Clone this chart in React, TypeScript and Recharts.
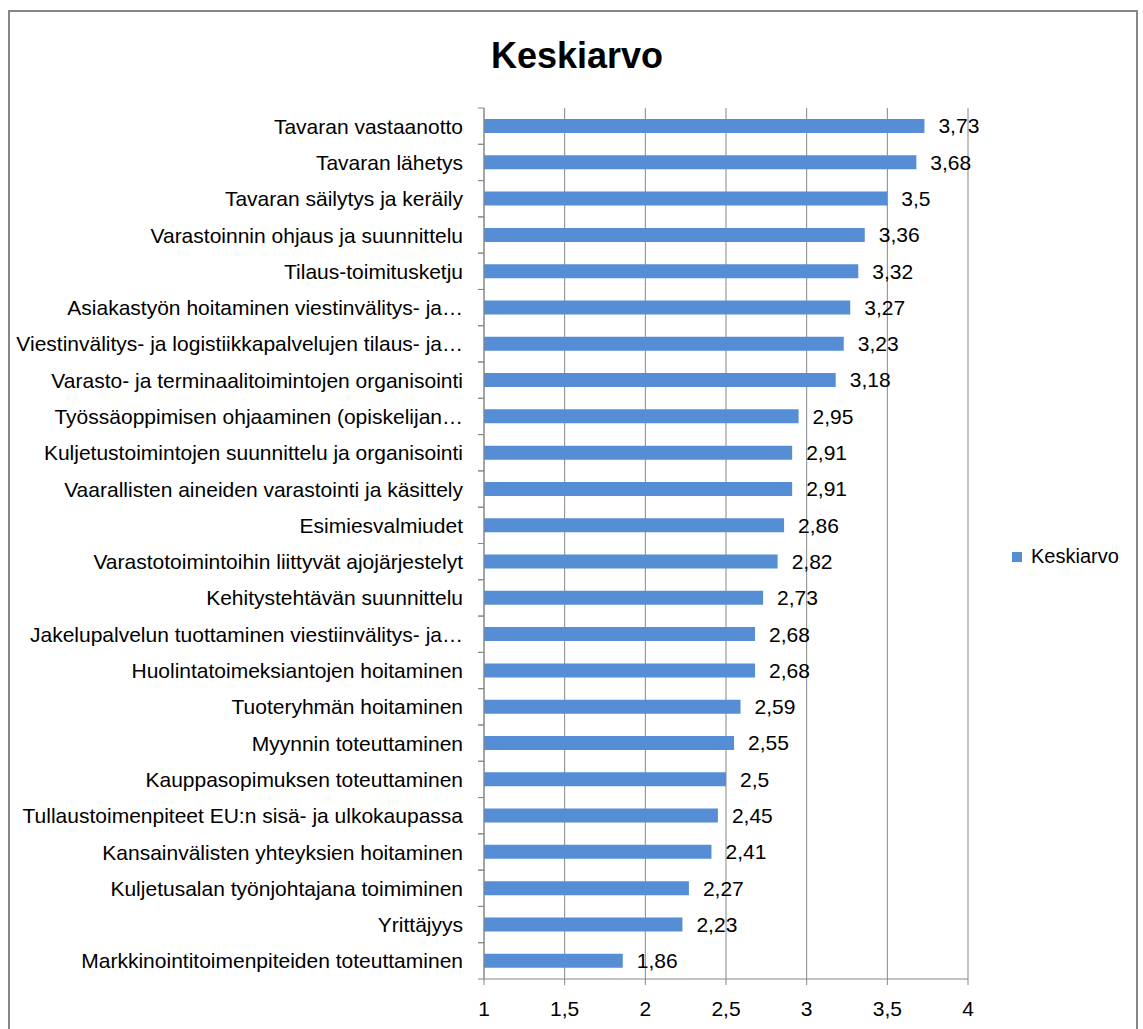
import React from "react";
import { BarChart, Bar, XAxis, YAxis, CartesianGrid, LabelList } from "recharts";

const categories: string[] = [
  "Tavaran vastaanotto",
  "Tavaran lähetys",
  "Tavaran säilytys ja keräily",
  "Varastoinnin ohjaus ja suunnittelu",
  "Tilaus-toimitusketju",
  "Asiakastyön hoitaminen viestinvälitys- ja…",
  "Viestinvälitys- ja logistiikkapalvelujen tilaus- ja…",
  "Varasto- ja terminaalitoimintojen organisointi",
  "Työssäoppimisen ohjaaminen (opiskelijan…",
  "Kuljetustoimintojen suunnittelu ja organisointi",
  "Vaarallisten aineiden varastointi ja käsittely",
  "Esimiesvalmiudet",
  "Varastotoimintoihin liittyvät ajojärjestelyt",
  "Kehitystehtävän suunnittelu",
  "Jakelupalvelun tuottaminen viestiinvälitys- ja…",
  "Huolintatoimeksiantojen hoitaminen",
  "Tuoteryhmän hoitaminen",
  "Myynnin toteuttaminen",
  "Kauppasopimuksen toteuttaminen",
  "Tullaustoimenpiteet EU:n sisä- ja ulkokaupassa",
  "Kansainvälisten yhteyksien hoitaminen",
  "Kuljetusalan työnjohtajana toimiminen",
  "Yrittäjyys",
  "Markkinointitoimenpiteiden toteuttaminen",
];

const keskiarvo: number[] = [
  3.73, 3.68, 3.5, 3.36, 3.32, 3.27, 3.23, 3.18, 2.95, 2.91, 2.91, 2.86,
  2.82, 2.73, 2.68, 2.68, 2.59, 2.55, 2.5, 2.45, 2.41, 2.27, 2.23, 1.86,
];

const xTicks: number[] = [1, 1.5, 2, 2.5, 3, 3.5, 4];

const seriesName = "Keskiarvo";
const chartTitle = "Keskiarvo";

const data = categories.map((name, i) => ({ name, value: keskiarvo[i] }));

const FONT = "'Liberation Sans', Arial, sans-serif";
const GRAY = "#868686";
const BLUE = "#558ED5";
const FS = 21;

const fmt = (v: any) => String(v).replace(".", ",");

const CategoryTick = (props: any) => {
  const { x, y, payload } = props;
  const half = payload && typeof payload.offset === "number" && payload.offset > 0 ? payload.offset : 18.15;
  const axisX = 484;
  return (
    <g>
      <line x1={axisX - 6} x2={axisX} y1={y - half} y2={y - half} stroke={GRAY} strokeWidth={1} />
      <line x1={axisX - 6} x2={axisX} y1={y + half} y2={y + half} stroke={GRAY} strokeWidth={1} />
      <text x={x} y={y} dy="0.36em" textAnchor="end" fill="#000" fontSize={FS} fontFamily={FONT}>
        {payload.value}
      </text>
    </g>
  );
};

export default function App() {
  return (
    <div style={{ position: "absolute", left: 0, top: 0, width: 1143, height: 1029, background: "#fff", overflow: "hidden" }}>
      <div
        style={{
          position: "absolute",
          left: 8,
          top: 10,
          width: 1130,
          height: 1060,
          border: `2px solid ${GRAY}`,
          boxSizing: "border-box",
        }}
      />
      <svg style={{ position: "absolute", left: 0, top: 0 }} width={1143} height={100}>
        <text x={577} y={68} textAnchor="middle" fontFamily={FONT} fontWeight="bold" fontSize={36} fill="#000">
          {chartTitle}
        </text>
      </svg>
      <div style={{ position: "absolute", left: 0, top: 0 }}>
        <BarChart
          width={1143}
          height={1029}
          data={data}
          layout="vertical"
          margin={{ top: 108, right: 175, bottom: 10, left: 9 }}
          barCategoryGap="60%"
        >
          <CartesianGrid horizontal={false} vertical={true} stroke={GRAY} strokeWidth={1} />
          <XAxis
            type="number"
            domain={[1, 4]}
            ticks={xTicks}
            allowDataOverflow
            height={40}
            tickSize={6}
            tickMargin={16}
            tickFormatter={fmt}
            axisLine={{ stroke: GRAY }}
            tickLine={{ stroke: GRAY }}
            tick={{ fill: "#000", fontSize: FS, fontFamily: FONT }}
          />
          <YAxis
            type="category"
            dataKey="name"
            width={475}
            tickSize={6}
            tickMargin={15}
            tickLine={false}
            axisLine={{ stroke: GRAY }}
            interval={0}
            tick={<CategoryTick />}
          />
          <Bar dataKey="value" name={seriesName} fill={BLUE} barSize={14} isAnimationActive={false}>
            <LabelList
              dataKey="value"
              position="right"
              offset={14}
              formatter={fmt}
              fill="#000"
              fontSize={FS}
              fontFamily={FONT}
            />
          </Bar>
        </BarChart>
      </div>
      <div
        style={{
          position: "absolute",
          left: 1012,
          top: 545,
          display: "flex",
          alignItems: "center",
          fontFamily: FONT,
          fontSize: 20,
          color: "#000",
          whiteSpace: "nowrap",
        }}
      >
        <span style={{ display: "inline-block", width: 10, height: 10, background: BLUE, marginRight: 9 }} />
        <span>{seriesName}</span>
      </div>
    </div>
  );
}
